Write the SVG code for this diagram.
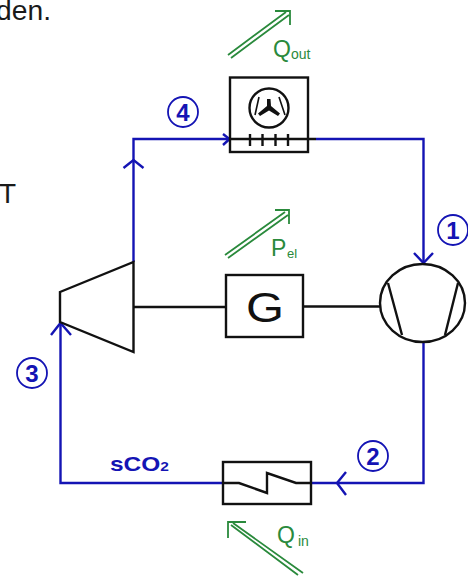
<svg xmlns="http://www.w3.org/2000/svg" width="468" height="577" viewBox="0 0 468 577">
<style>
text{font-family:"Liberation Sans",Arial,sans-serif}
.k{fill:none;stroke:#111;stroke-width:2.4;stroke-linejoin:miter}
.t{fill:none;stroke:#111;stroke-width:1.6}
.b{fill:none;stroke:#1414b4;stroke-width:2.4}
.g{fill:none;stroke:#2a8a3c;stroke-width:1.8}
.gt{fill:#2a8a3c;font-size:23px}
.gs{fill:#2a8a3c;font-size:14px}
.c{fill:#fff;stroke:#1414b4;stroke-width:1.8}
.n{fill:#1414b4;font-size:24px;font-weight:bold;text-anchor:middle}
.p{fill:#1a1a1a;font-size:28px}
</style>
<rect width="468" height="577" fill="#fff"/>
<g id="page-text">
<text class="p" x="-4" y="20" textLength="55" lengthAdjust="spacingAndGlyphs">den.</text>
<text class="p" x="-1" y="203">T</text>
</g>
<g id="connectors">
<path class="b" d="M133.5 262V139H229"/>
<path class="b" d="M316 139H423.5V263"/>
<path class="b" d="M423.5 342V483H311"/>
<path class="b" d="M223 483H60.5V322"/>
<path class="b" d="M123.5 168L133.5 160L143.5 168"/>
<path class="b" d="M223 134L229.5 139L223 145"/>
<path class="b" d="M414 253L423.5 263L433 253"/>
<path class="b" d="M51 335L60.5 323L71 335"/>
<path class="b" d="M346 472L337 483L346 495"/>
<path class="k" d="M134 307H226"/>
<path class="k" d="M303 306.5H380"/>
</g>
<g id="cooler">
<rect class="k" x="230" y="77.5" width="78" height="74.500"/>
<path class="k" d="M230 139H316"/>
<path class="k" d="M250 134V146M262.500 134V146M275.500 134V146M288 134V146"/>
<circle class="k" cx="269" cy="108" r="19.500"/>
<path class="t" d="M259 97L255 115M279 97L285 115"/>
<path d="M267 99L270.500 99L271 106L280 113.500L278 116L269 110.500L260 116L258 113.500L267 106Z" fill="#111"/>
</g>
<g id="turbine">
<path class="k" d="M60 292L133.500 262V352L60 322Z"/>
</g>
<g id="generator">
<rect class="k" x="226" y="275" width="77" height="62"/>
<text x="246" y="321.500" font-size="42" textLength="38" lengthAdjust="spacingAndGlyphs" fill="#111">G</text>
</g>
<g id="compressor">
<ellipse class="k" cx="422.500" cy="303" rx="42.500" ry="39"/>
<path class="k" d="M388 283L402 335M458 283L445 335"/>
</g>
<g id="heater">
<rect class="k" x="223" y="462" width="88" height="42"/>
<path class="k" d="M223 483H239L267 493V473L296 483H311"/>
</g>
<g id="heat-out">
<path class="g" d="M228 55L286 12M231 58L289 15M275 11H290V25"/>
<text class="gt" x="273" y="57">Q</text><text class="gs" x="291" y="59">out</text>
</g>
<g id="power">
<path class="g" d="M225 255L285 212M228 258L288 215M275 210H289V224"/>
<text class="gt" x="271" y="256">P</text><text class="gs" x="287" y="258" style="font-size:13px">el</text>
</g>
<g id="heat-in">
<path class="g" d="M298 575L231 525M303 573L233 523M246 522H228V538"/>
<text class="gt" x="277" y="543">Q</text><text class="gs" x="298" y="546">in</text>
</g>
<g id="state-1"><circle class="c" cx="453" cy="230" r="15"/><text class="n" x="453" y="238.500">1</text></g>
<g id="state-2"><circle class="c" cx="373" cy="456" r="15"/><text class="n" x="373" y="464.500">2</text></g>
<g id="state-3"><circle class="c" cx="32" cy="373" r="15"/><text class="n" x="32" y="381.500">3</text></g>
<g id="state-4"><circle class="c" cx="183" cy="112" r="15"/><text class="n" x="183" y="120.500">4</text></g>
<g id="fluid-label"><text x="110" y="471" fill="#1414b4" font-size="20.500" font-weight="bold" textLength="59" lengthAdjust="spacingAndGlyphs">sCO<tspan font-size="13">2</tspan></text></g>
</svg>
